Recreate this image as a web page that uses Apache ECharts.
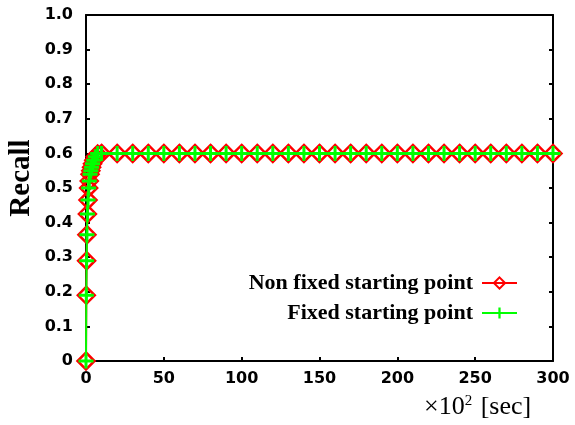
<!DOCTYPE html>
<html>
<head>
<meta charset="utf-8">
<script src="https://cdn.jsdelivr.net/npm/echarts@6/dist/echarts.min.js"></script>
<style>
  html, body { margin: 0; padding: 0; background: #fff; }
  #chart { width: 575px; height: 425px; }
</style>
</head>
<body>
<div id="chart"></div>
<script>
// time (x100 sec)
var timeVals = [0, 0.2, 0.4, 0.6, 0.9, 1.3, 1.7, 2.1, 2.6, 3.1, 3.6, 4.2, 5, 6, 7.5, 10,
    20, 30, 40, 50, 60, 70, 80, 90, 100, 110, 120, 130, 140, 150, 160, 170, 180, 190, 200,
    210, 220, 230, 240, 250, 260, 270, 280, 290, 300];
var recallNonFixed = [0, 0.19, 0.29, 0.365, 0.425, 0.465, 0.50, 0.52, 0.54, 0.55, 0.56, 0.57, 0.58, 0.59, 0.598, 0.60,
    0.60, 0.60, 0.60, 0.60, 0.60, 0.60, 0.60, 0.60, 0.60, 0.60, 0.60, 0.60, 0.60, 0.60, 0.60, 0.60, 0.60, 0.60, 0.60,
    0.60, 0.60, 0.60, 0.60, 0.60, 0.60, 0.60, 0.60, 0.60, 0.60];
var recallFixed = [0, 0.19, 0.29, 0.365, 0.425, 0.465, 0.50, 0.52, 0.54, 0.55, 0.56, 0.57, 0.58, 0.59, 0.60, 0.60,
    0.60, 0.60, 0.60, 0.60, 0.60, 0.60, 0.60, 0.60, 0.60, 0.60, 0.60, 0.60, 0.60, 0.60, 0.60, 0.60, 0.60, 0.60, 0.60,
    0.60, 0.60, 0.60, 0.60, 0.60, 0.60, 0.60, 0.60, 0.60, 0.60];
var seriesNames = ['Non fixed starting point', 'Fixed starting point'];

function pairs(xs, ys) {
    var out = [];
    for (var i = 0; i < xs.length; i++) out.push([xs[i], ys[i]]);
    return out;
}

var plusPath = 'path://M4,0H6V4H10V6H6V10H4V6H0V4H4Z';
var tickFont = { fontFamily: 'DejaVu Sans', fontWeight: 'bold', fontSize: 16, color: '#000' };
var axisLine = { show: true, onZero: false, lineStyle: { color: '#000', width: 2 } };
var tickStyle = { show: true, inside: true, length: 4, lineStyle: { color: '#000', width: 2 } };

var chart = echarts.init(document.getElementById('chart'));
chart.setOption({
    animation: false,
    backgroundColor: '#fff',
    grid: { left: 86, right: 22, top: 15, bottom: 64 },
    legend: {
        right: 52,
        top: 267,
        orient: 'vertical',
        align: 'right',
        itemWidth: 35,
        itemHeight: 14,
        itemGap: 8,
        textStyle: {
            fontFamily: 'Liberation Serif, Times New Roman', fontWeight: 'bold', fontSize: 22, color: '#000',
            padding: [0, 4, 0, 0]
        },
        data: seriesNames
    },
    xAxis: [{
        type: 'value', min: 0, max: 300, interval: 50,
        axisLine: axisLine,
        axisTick: tickStyle,
        axisLabel: Object.assign({ margin: 10 }, tickFont),
        splitLine: { show: false }
    }, {
        type: 'value', position: 'top', min: 0, max: 300, interval: 50,
        axisLine: axisLine,
        axisTick: { show: false },
        axisLabel: { show: false },
        splitLine: { show: false }
    }],
    yAxis: [{
        type: 'value', min: 0, max: 1, interval: 0.1,
        axisLine: axisLine,
        axisTick: tickStyle,
        axisLabel: Object.assign({
            margin: 13,
            formatter: function (v) { return v === 0 ? '0' : v.toFixed(1); }
        }, tickFont),
        splitLine: { show: false }
    }, {
        type: 'value', position: 'right', min: 0, max: 1, interval: 0.1,
        axisLine: axisLine,
        axisTick: tickStyle,
        axisLabel: { show: false },
        splitLine: { show: false }
    }],
    graphic: [{
        type: 'text',
        x: 22,
        y: 178,
        rotation: Math.PI / 2,
        style: {
            text: 'Recall',
            font: 'bold 29px "Liberation Serif", "Times New Roman"',
            fill: '#000',
            align: 'center',
            verticalAlign: 'middle'
        }
    }, {
        type: 'text',
        x: 424,
        y: 394,
        style: {
            text: '×10{sup|2} [sec]',
            font: '26px "Liberation Serif", "Times New Roman"',
            fill: '#000',
            rich: {
                sup: { fontFamily: 'Liberation Serif', fontSize: 15, verticalAlign: 'top', padding: [0, 2, 12, 0] }
            }
        }
    }],
    series: [{
        name: seriesNames[0],
        type: 'line',
        data: pairs(timeVals, recallNonFixed),
        symbol: 'diamond',
        symbolSize: 17,
        showAllSymbol: true,
        lineStyle: { color: '#ff0000', width: 2 },
        itemStyle: { color: 'rgba(255,255,255,0)', borderColor: '#ff0000', borderWidth: 2.5 },
        z: 2
    }, {
        name: seriesNames[1],
        type: 'line',
        data: pairs(timeVals, recallFixed),
        symbol: plusPath,
        symbolSize: 15,
        showAllSymbol: true,
        lineStyle: { color: '#00ff00', width: 2 },
        itemStyle: { color: '#00ff00' },
        z: 3
    }]
});
</script>
</body>
</html>
